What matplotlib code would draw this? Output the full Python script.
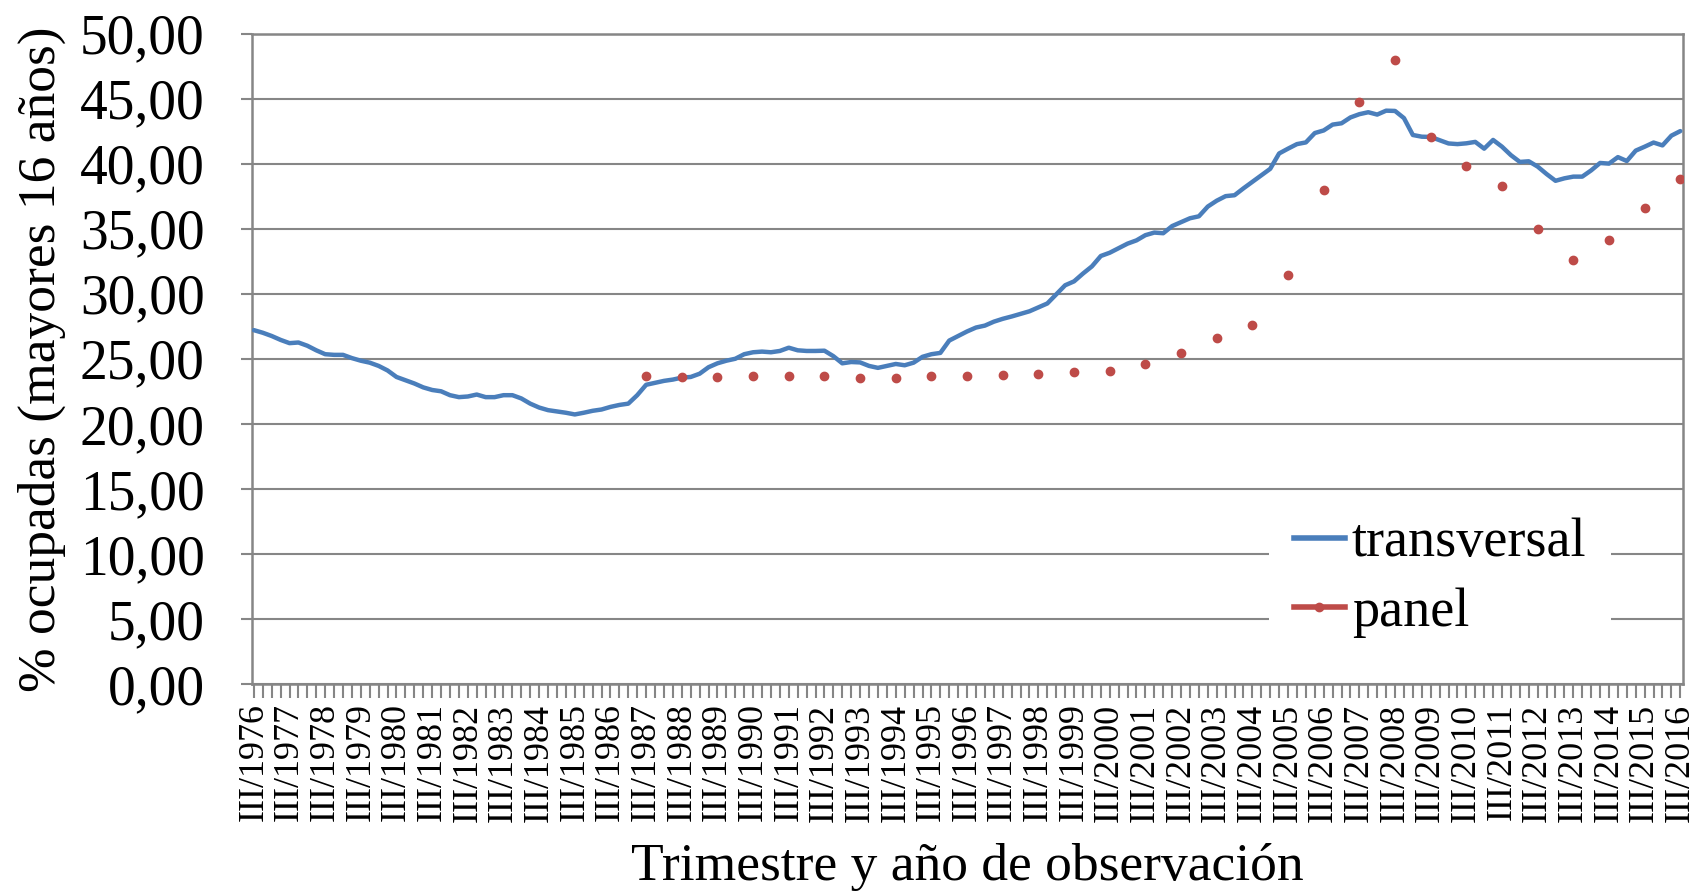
import matplotlib
matplotlib.use("Agg")
import matplotlib.pyplot as plt
from matplotlib.lines import Line2D
from matplotlib.ticker import FixedLocator, FuncFormatter, MultipleLocator

plt.rcParams['font.family'] = ['Liberation Serif', 'DejaVu Serif']

# serie transversal: trimestral, III/1976 ... III/2016 (161 trimestres)
transversal = [
    27.2, 27.0, 26.75, 26.45, 26.2, 26.25, 26.0, 25.65, 25.35, 25.3,
    25.3, 25.05, 24.85, 24.7, 24.45, 24.1, 23.6, 23.35, 23.1, 22.8,
    22.6, 22.5, 22.2, 22.05, 22.1, 22.25, 22.05, 22.05, 22.2, 22.2,
    21.95, 21.55, 21.25, 21.05, 20.95, 20.85, 20.72, 20.85, 21.0, 21.1,
    21.3, 21.45, 21.55, 22.2, 23.0, 23.15, 23.3, 23.4, 23.55, 23.6,
    23.85, 24.35, 24.65, 24.85, 25.0, 25.35, 25.5, 25.55, 25.5, 25.6,
    25.85, 25.65, 25.6, 25.6, 25.62, 25.2, 24.65, 24.75, 24.72, 24.45,
    24.3, 24.45, 24.6, 24.5, 24.7, 25.15, 25.35, 25.45, 26.4, 26.75,
    27.1, 27.4, 27.55, 27.85, 28.07, 28.25, 28.45, 28.65, 28.95, 29.25,
    29.95, 30.65, 30.95, 31.55, 32.1, 32.9, 33.15, 33.5, 33.85, 34.1,
    34.5, 34.7, 34.65, 35.2, 35.5, 35.8, 35.95, 36.7, 37.15, 37.5,
    37.57, 38.1, 38.6, 39.1, 39.6, 40.78, 41.15, 41.5, 41.63, 42.35,
    42.55, 43.0, 43.1, 43.55, 43.8, 43.95, 43.77, 44.07, 44.05, 43.5,
    42.2, 42.07, 42.05, 41.8, 41.55, 41.5, 41.56, 41.67, 41.15, 41.82,
    41.3, 40.65, 40.13, 40.18, 39.77, 39.2, 38.68, 38.87, 39.0, 39.0,
    39.48, 40.05, 40.0, 40.5, 40.2, 41.0, 41.3, 41.62, 41.4, 42.15,
    42.5,
]

# panel: un dato anual (III trimestre) 1987 ... 2016
panel_years = list(range(1987, 2017))
panel = [
    23.65, 23.6, 23.62, 23.65, 23.65, 23.65, 23.55, 23.55, 23.65, 23.68,
    23.77, 23.84, 23.95, 24.08, 24.6, 25.46, 26.62, 27.57, 31.43, 37.95,
    44.77, 47.96, 42.05, 39.8, 38.3, 34.98, 32.59, 34.1, 36.58, 38.82,
]

label_years = list(range(1976, 2017))
tick_labels = ["III/%d" % y for y in label_years]

blue = '#4a7ebb'
red = '#be4b48'
grid_col = '#868686'

fig = plt.figure(figsize=(16.94, 8.94), dpi=100)
ax = fig.add_axes([0.1488, 0.2349, 0.9935 - 0.1488, 0.9625 - 0.2349])

q = list(range(len(transversal)))
ax.plot(q, transversal, color=blue, lw=3.2, solid_capstyle='round', zorder=3)

panel_q = [(y - 1976) * 4 for y in panel_years]
ax.plot(panel_q, panel, linestyle='none', marker='o', ms=6,
        color=red, mec=red, zorder=4)

ax.set_ylim(0, 50)
ax.set_xlim(-0.2, 160.3)
ax.yaxis.set_major_locator(MultipleLocator(5))
ax.yaxis.set_major_formatter(FuncFormatter(lambda v, p: ("%.2f" % v).replace('.', ',')))
ax.grid(axis='y', color=grid_col, lw=1.5)
ax.set_axisbelow(True)

ax.xaxis.set_major_locator(FixedLocator([(y - 1976) * 4 for y in label_years]))
ax.xaxis.set_minor_locator(FixedLocator(q))
ax.set_xticklabels(tick_labels, rotation=90, fontsize=26)
ax.tick_params(axis='x', which='both', length=10, width=1.5, color=grid_col, pad=4)
ax.tick_params(axis='y', length=8, width=1.5, color=grid_col, labelsize=40, pad=26)

for s in ax.spines.values():
    s.set_color(grid_col)
    s.set_linewidth(1.8)

ax.set_ylabel('% ocupadas (mayores 16 años)', fontsize=38.5, labelpad=10)
ax.set_xlabel('Trimestre y año de observación', fontsize=38.5, labelpad=15)

handles = [
    Line2D([], [], color=blue, lw=4),
    Line2D([], [], color=red, lw=4, marker='o', ms=6),
]
leg = ax.legend(handles, ['transversal', 'panel'], fontsize=39,
                loc='center left', bbox_to_anchor=(0.692, 0.163),
                frameon=True, fancybox=False, handlelength=0.95,
                handletextpad=0.12, labelspacing=0.35, borderpad=0.45)
leg.get_frame().set_edgecolor('none')
leg.get_frame().set_facecolor('white')
leg.get_frame().set_alpha(1)

fig.savefig('out.png', dpi=100)
